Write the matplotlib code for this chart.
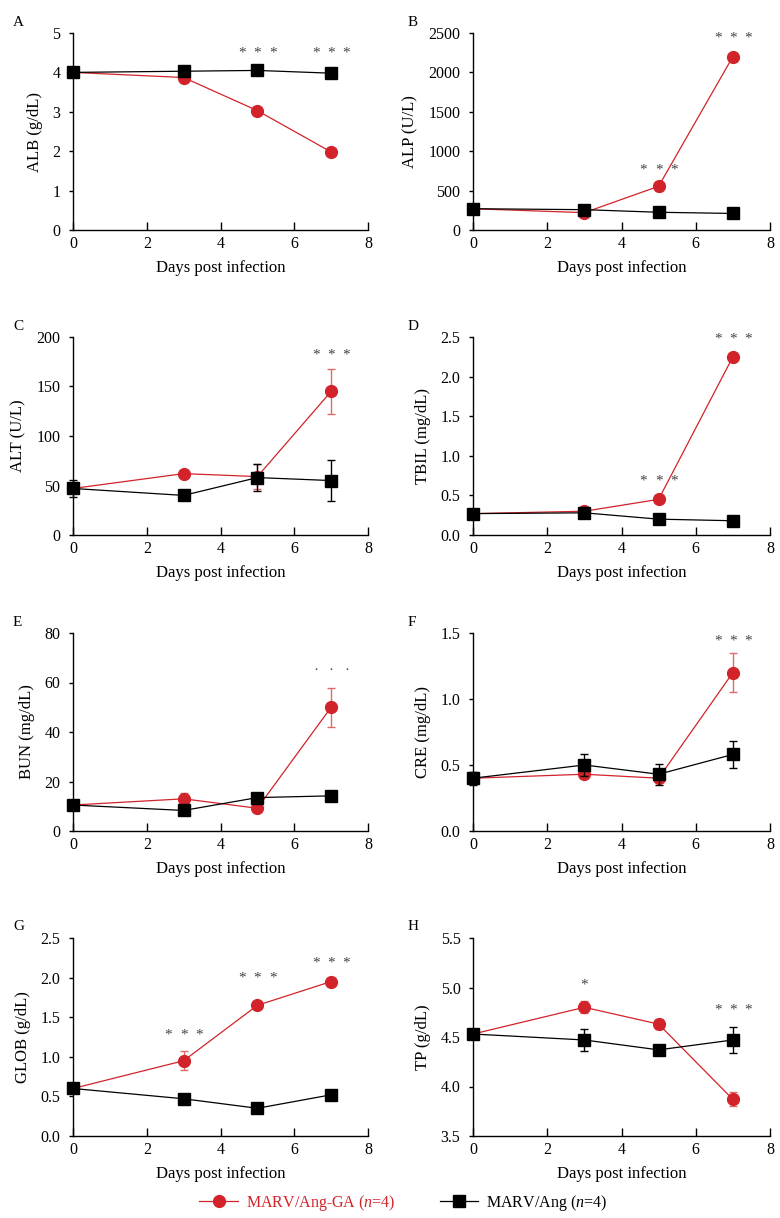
import matplotlib
matplotlib.use("Agg")
import matplotlib.pyplot as plt

plt.rcParams['font.family'] = ['Liberation Serif', 'DejaVu Serif']
plt.rcParams['mathtext.fontset'] = 'custom'
plt.rcParams['mathtext.rm'] = 'Liberation Serif'
plt.rcParams['mathtext.it'] = 'Liberation Serif:italic'

days = [0, 3, 5, 7]
series_labels = ["MARV/Ang-GA ($n$=4)", "MARV/Ang ($n$=4)"]

# A ALB
alb_ga = [4.0, 3.87, 3.03, 1.98]
alb_ga_err = [0.0, 0.0, 0.0, 0.0]
alb_ang = [4.0, 4.03, 4.05, 3.98]
alb_ang_err = [0.0, 0.0, 0.0, 0.0]
# B ALP
alp_ga = [270, 220, 555, 2200]
alp_ga_err = [0, 0, 60, 0]
alp_ang = [270, 258, 225, 210]
alp_ang_err = [0, 0, 0, 0]
# C ALT
alt_ga = [47, 62, 59, 145]
alt_ga_err = [0, 0, 13, 23]
alt_ang = [47, 40, 58, 55]
alt_ang_err = [9, 0, 14, 21]
# D TBIL
tbil_ga = [0.27, 0.30, 0.45, 2.25]
tbil_ga_err = [0, 0, 0.04, 0]
tbil_ang = [0.27, 0.28, 0.20, 0.18]
tbil_ang_err = [0, 0, 0, 0]
# E BUN
bun_ga = [10.5, 13.0, 9.2, 50.0]
bun_ga_err = [0, 2.5, 0, 7.8]
bun_ang = [10.5, 8.3, 13.5, 14.2]
bun_ang_err = [0, 0, 0, 0]
# F CRE
cre_ga = [0.40, 0.43, 0.40, 1.20]
cre_ga_err = [0, 0, 0, 0.15]
cre_ang = [0.40, 0.50, 0.43, 0.58]
cre_ang_err = [0.05, 0.08, 0.08, 0.10]
# G GLOB
glob_ga = [0.60, 0.95, 1.65, 1.95]
glob_ga_err = [0, 0.12, 0, 0]
glob_ang = [0.60, 0.47, 0.35, 0.52]
glob_ang_err = [0, 0, 0, 0.06]
# H TP
tp_ga = [4.53, 4.80, 4.63, 3.87]
tp_ga_err = [0, 0.06, 0.05, 0.07]
tp_ang = [4.53, 4.47, 4.37, 4.47]
tp_ang_err = [0, 0.11, 0, 0.13]

panel_letters = ["A", "B", "C", "D", "E", "F", "G", "H"]
ylabels = ["ALB (g/dL)", "ALP (U/L)", "ALT (U/L)", "TBIL (mg/dL)",
           "BUN (mg/dL)", "CRE (mg/dL)", "GLOB (g/dL)", "TP (g/dL)"]
yticks_list = [[0, 1, 2, 3, 4, 5], [0, 500, 1000, 1500, 2000, 2500],
               [0, 50, 100, 150, 200], [0.0, 0.5, 1.0, 1.5, 2.0, 2.5],
               [0, 20, 40, 60, 80], [0.0, 0.5, 1.0, 1.5],
               [0.0, 0.5, 1.0, 1.5, 2.0, 2.5], [3.5, 4.0, 4.5, 5.0, 5.5]]
decimals = [0, 0, 0, 1, 0, 1, 1, 1]
# significance marks: (day, y, text)
sig_marks = [
    [(5, 4.5, "***"), (7, 4.5, "***")],
    [(5, 760, "***"), (7, 2430, "***")],
    [(7, 182, "***")],
    [(5, 0.68, "***"), (7, 2.48, "***")],
    [(7, 65, "···")],
    [(7, 1.44, "***")],
    [(3, 1.27, "***"), (5, 2.0, "***"), (7, 2.19, "***")],
    [(3, 5.02, "*"), (7, 4.77, "***")],
]
data = [
    (alb_ga, alb_ga_err, alb_ang, alb_ang_err),
    (alp_ga, alp_ga_err, alp_ang, alp_ang_err),
    (alt_ga, alt_ga_err, alt_ang, alt_ang_err),
    (tbil_ga, tbil_ga_err, tbil_ang, tbil_ang_err),
    (bun_ga, bun_ga_err, bun_ang, bun_ang_err),
    (cre_ga, cre_ga_err, cre_ang, cre_ang_err),
    (glob_ga, glob_ga_err, glob_ang, glob_ang_err),
    (tp_ga, tp_ga_err, tp_ang, tp_ang_err),
]

W, H = 780, 1218
fig = plt.figure(figsize=(W / 100, H / 100), dpi=100)

col_lr = [(73, 368), (473, 770)]
letter_x = [13, 408]
row_tb = [(33, 230), (337, 535), (633, 831), (938, 1136)]

RED = '#d2232a'
RED_ERR = '#e06a6a'
BLACK = '#000000'
STAR = '#444444'

handles = []
for i in range(8):
    r, c = divmod(i, 2)
    l, rr = col_lr[c]
    t, b = row_tb[r]
    ax = fig.add_axes([l / W, 1 - b / H, (rr - l) / W, (b - t) / H])
    ga, ga_err, ang, ang_err = data[i]

    ax.errorbar(days, ga, yerr=ga_err, fmt='none', ecolor=RED_ERR,
                elinewidth=1.0, capsize=3.2, capthick=1.0, zorder=2, clip_on=False)
    h1, = ax.plot(days, ga, color=RED, lw=0.9, marker='o', ms=8.5,
                  mfc=RED, mec=RED, zorder=3, clip_on=False)
    ax.errorbar(days, ang, yerr=ang_err, fmt='none', ecolor=BLACK,
                elinewidth=1.0, capsize=3.2, capthick=1.0, zorder=4, clip_on=False)
    h2, = ax.plot(days, ang, color=BLACK, lw=0.9, marker='s', ms=8,
                  mfc=BLACK, mec=BLACK, zorder=5, clip_on=False)
    if i == 0:
        handles = [h1, h2]

    yt = yticks_list[i]
    ax.set_xlim(0, 8)
    ax.set_ylim(yt[0], yt[-1])
    ax.set_xticks([0, 2, 4, 6, 8])
    ax.set_yticks(yt)
    fmt = "{:.%df}" % decimals[i]
    ax.set_yticklabels([fmt.format(v) for v in yt])
    for s in ['top', 'right']:
        ax.spines[s].set_visible(False)
    for s in ['left', 'bottom']:
        ax.spines[s].set_linewidth(1.0)
    ax.tick_params(axis='x', direction='in', length=6, width=1.0, pad=4, labelsize=11.5)
    ax.tick_params(axis='y', direction='out', length=3, width=1.0, pad=6, labelsize=11.5)
    ax.set_xlabel("Days post infection", fontsize=12, labelpad=6)
    ax.set_ylabel(ylabels[i], fontsize=12, labelpad=7)

    for (d, y, txt) in sig_marks[i]:
        n = len(txt)
        for k in range(n):
            off = (k - (n - 1) / 2) * 11.0
            ax.annotate(txt[k], xy=(d, y), xytext=(off, 0), textcoords='offset points',
                        ha='center', va='center', fontsize=11, color=STAR,
                        annotation_clip=False)

    fig.text(letter_x[c] / W, 1 - (t - 11) / H, panel_letters[i], fontsize=11,
             ha='left', va='center')

leg = fig.legend(handles, series_labels, loc='center', bbox_to_anchor=(0.517, 1 - 1203 / H),
                 ncol=2, frameon=False, fontsize=11.5, handlelength=2.4,
                 columnspacing=2.8, handletextpad=0.5, labelcolor=[RED, BLACK])

fig.savefig("out.png", dpi=100)
